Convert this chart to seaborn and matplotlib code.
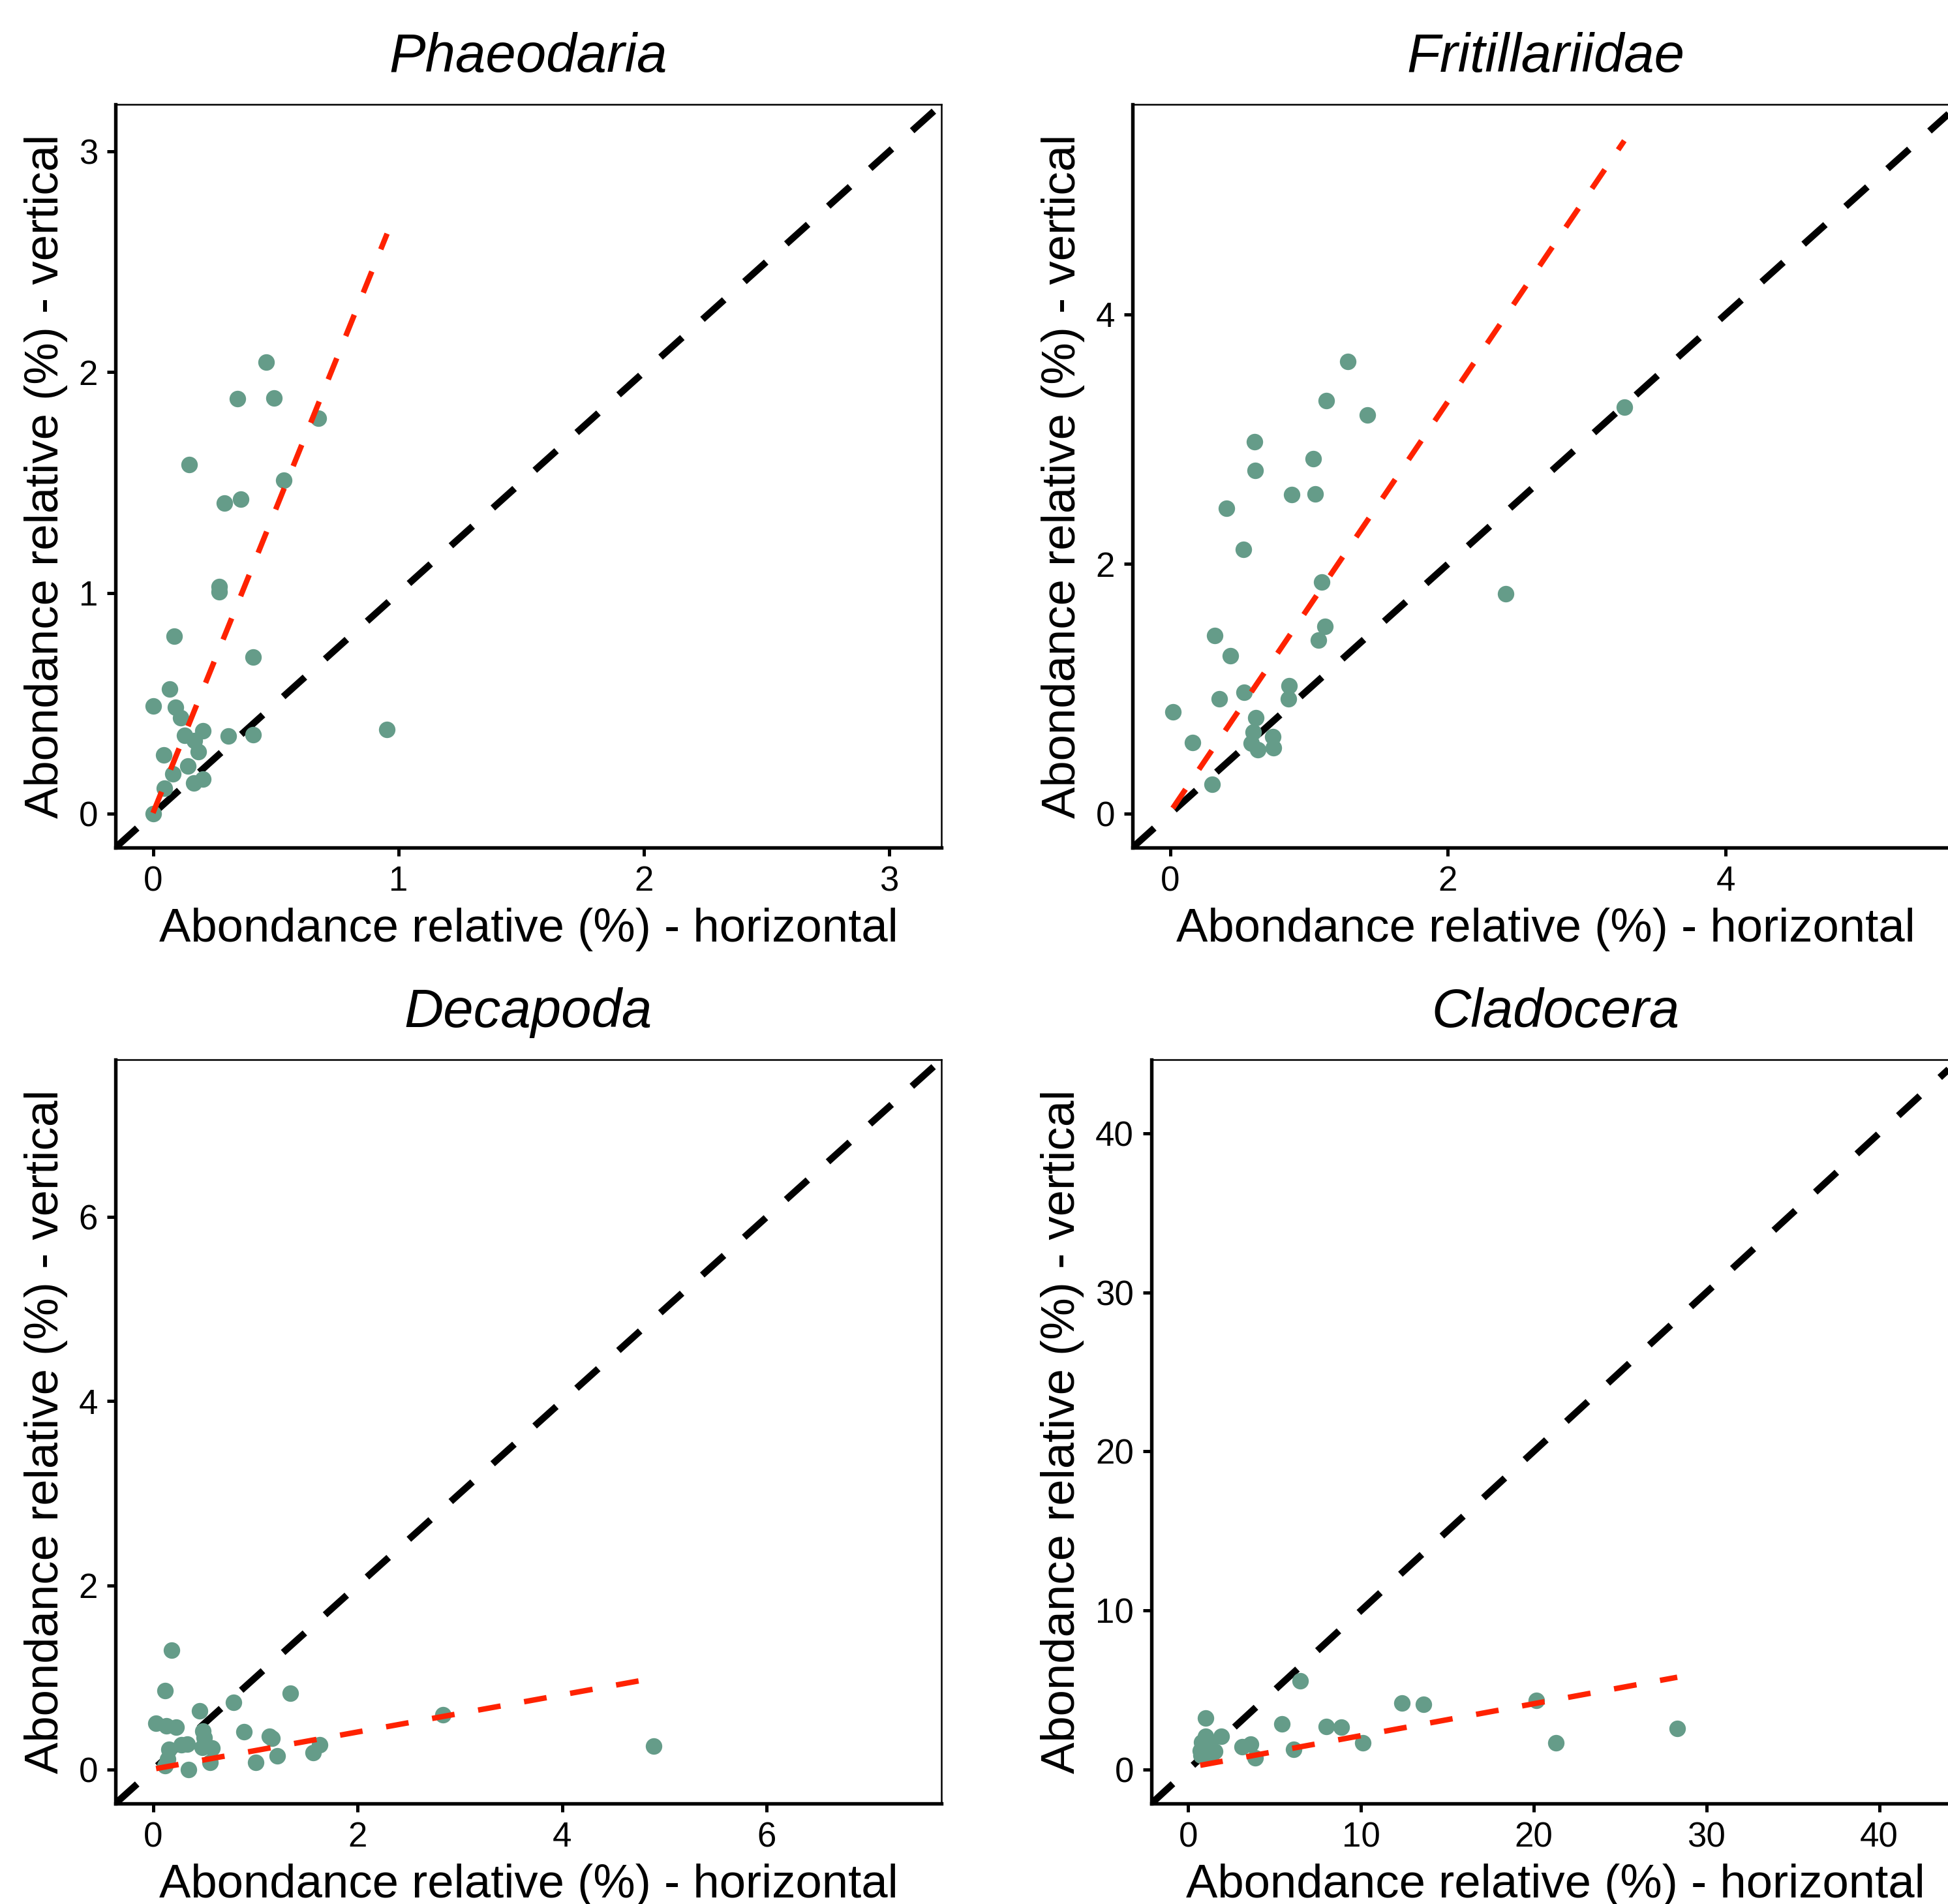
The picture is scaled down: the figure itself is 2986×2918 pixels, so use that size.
import numpy as np
import pandas as pd
import matplotlib
matplotlib.use("Agg")
import matplotlib.pyplot as plt
import seaborn as sns

# ---------------- data ----------------
titles = ["Phaeodaria", "Fritillariidae", "Decapoda", "Cladocera"]

phaeo_h = [0.462, 0.345, 0.492, 0.675, 0.147, 0.534, 0.291, 0.358, 0.269, 0.269,
           0.087, 0.408, 0.069, 0.0, 0.091, 0.113, 0.130, 0.204, 0.169, 0.306,
           0.408, 0.954, 0.184, 0.043, 0.141, 0.080, 0.167, 0.204, 0.046, 0.0]
phaeo_v = [2.046, 1.879, 1.884, 1.792, 1.581, 1.511, 1.406, 1.425, 1.029, 1.004,
           0.805, 0.711, 0.564, 0.487, 0.482, 0.434, 0.355, 0.375, 0.333, 0.351,
           0.357, 0.382, 0.281, 0.268, 0.215, 0.180, 0.140, 0.158, 0.116, 0.0]

fritil_h = [1.278, 1.123, 1.422, 3.270, 0.609, 1.032, 0.612, 0.877, 1.043, 0.408,
            0.529, 1.093, 2.416, 1.115, 1.070, 0.321, 0.435, 0.533, 0.858, 0.355,
            0.854, 0.019, 0.616, 0.163, 0.597, 0.582, 0.631, 0.737, 0.745, 0.302]
fritil_v = [3.624, 3.306, 3.194, 3.256, 2.977, 2.845, 2.748, 2.554, 2.562, 2.446,
            2.116, 1.857, 1.764, 1.500, 1.391, 1.430, 1.267, 0.973, 1.027, 0.922,
            0.919, 0.818, 0.771, 0.570, 0.655, 0.566, 0.512, 0.620, 0.527, 0.236]

decap_h = [0.18, 0.12, 1.34, 0.786, 0.455, 0.03, 0.13, 0.226, 0.89, 0.485,
           1.135, 1.164, 0.50, 0.332, 0.279, 0.158, 0.481, 0.576, 1.627, 1.568,
           1.213, 0.141, 0.12, 0.349, 0.559, 1.003, 2.836, 4.896]
decap_v = [1.30, 0.855, 0.83, 0.734, 0.636, 0.507, 0.476, 0.462, 0.412, 0.421,
           0.362, 0.339, 0.35, 0.275, 0.273, 0.221, 0.245, 0.238, 0.268, 0.186,
           0.151, 0.115, 0.043, 0.0, 0.079, 0.079, 0.593, 0.257]

clado_h = [6.47, 1.01, 12.36, 13.63, 20.15, 5.41, 7.98, 8.85, 28.31, 1.93,
           1.01, 10.12, 21.30, 3.12, 3.63, 6.10, 3.88, 0.80, 1.25, 0.70,
           1.55, 1.10, 0.75, 1.30, 0.95]
clado_v = [5.59, 3.24, 4.19, 4.10, 4.35, 2.86, 2.71, 2.67, 2.61, 2.08,
           2.11, 1.70, 1.70, 1.46, 1.59, 1.29, 0.75, 1.75, 1.55, 1.20,
           1.15, 1.00, 0.90, 0.85, 1.35]

# fitted (red) regression lines: intercept, slope
fit_intercept = [0.004, 0.014, 0.006, 0.136]
fit_slope = [2.75, 1.644, 0.2017, 0.2005]

# common axis maximum of each panel (limits 0..max with 5% expansion)
axis_max = [3.06, 5.41, 7.34, 42.5]
tick_values = [[0, 1, 2, 3], [0, 2, 4], [0, 2, 4, 6], [0, 10, 20, 30, 40]]

xlabel = "Abondance relative (%) - horizontal"
ylabel = "Abondance relative (%) - vertical"

# ---------------- styling ----------------
sns.set_theme(style="white")
plt.rcParams["font.family"] = ["Liberation Sans", "DejaVu Sans"]

POINT_COLOR = "#659C89"
RED = "#FF2200"

W, H = 2986, 2918
fig = plt.figure(figsize=(W / 300, H / 300), dpi=300)
fig.patch.set_facecolor("white")

# panel boxes in pixels: left, top, right, bottom
boxes = [(177, 160, 1443, 1299),
         (1736, 160, 3003, 1299),
         (177, 1624, 1443, 2764),
         (1765, 1624, 3003, 2764)]

all_h = [phaeo_h, fritil_h, decap_h, clado_h]
all_v = [phaeo_v, fritil_v, decap_v, clado_v]

for i in range(4):
    l, t, r, b = boxes[i]
    ax = fig.add_axes([l / W, (H - b) / H, (r - l) / W, (b - t) / H])
    ax.set_facecolor("white")
    df = pd.DataFrame({"h": all_h[i], "v": all_v[i]})

    # identity line y = x
    ax.axline((0, 0), slope=1, color="black", linewidth=2.5,
              dashes=(4.3, 4.0), zorder=2)

    sns.scatterplot(data=df, x="h", y="v", ax=ax, color=POINT_COLOR,
                    s=37, linewidth=0, zorder=3, legend=False)

    # regression line, over the observed horizontal range
    xs = np.array([df["h"].min(), df["h"].max()])
    ys = fit_intercept[i] + fit_slope[i] * xs
    ax.plot(xs, ys, color=RED, linewidth=2.0, dashes=(4.2, 4.4), zorder=4)

    m = axis_max[i]
    ax.set_xlim(-0.05 * m, 1.05 * m)
    ax.set_ylim(-0.05 * m, 1.05 * m)
    ax.set_xticks(tick_values[i])
    ax.set_yticks(tick_values[i])
    ax.set_xticklabels([str(v) for v in tick_values[i]])
    ax.set_yticklabels([str(v) for v in tick_values[i]])

    ax.tick_params(axis="both", which="major", direction="out", length=3.1,
                   width=1.2, color="black", labelsize=12.7, labelcolor="black",
                   pad=3.4, bottom=True, left=True, top=False, right=False)

    for side in ["left", "bottom"]:
        ax.spines[side].set_linewidth(1.3)
        ax.spines[side].set_color("black")
    for side in ["top", "right"]:
        ax.spines[side].set_linewidth(0.6)
        ax.spines[side].set_color("black")

    ax.set_xlabel(xlabel, fontsize=17.4, labelpad=3.5, color="black")
    ax.set_ylabel(ylabel, fontsize=17.4, labelpad=4.0, color="black")
    ax.set_title(titles[i], fontsize=20, fontstyle="italic", pad=12, color="black")

fig.savefig("out.png", dpi=300, facecolor="white")
